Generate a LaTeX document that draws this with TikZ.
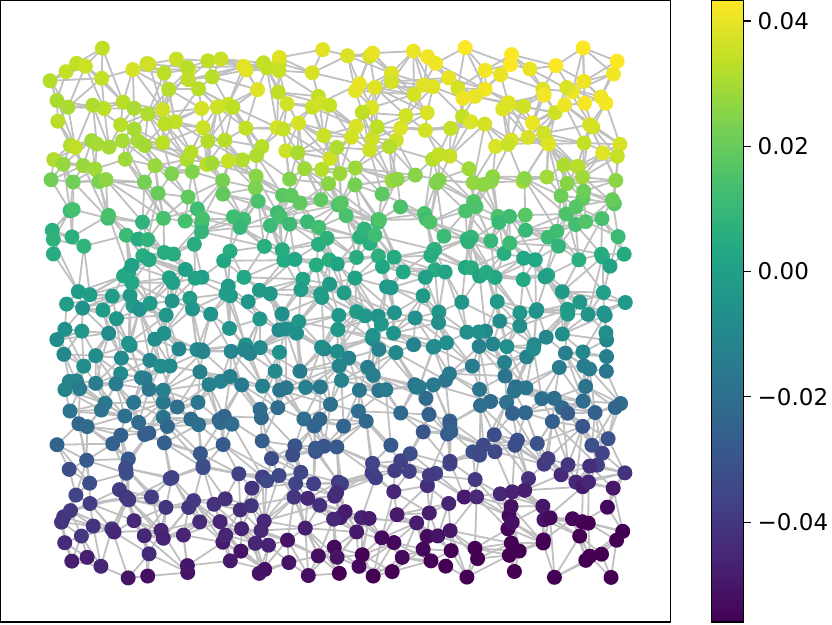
\documentclass[tikz,border=0pt]{standalone}
\usepackage{fontspec}
\setmainfont{DejaVu Sans}
\definecolor{vir0}{HTML}{440154}
\definecolor{vir1}{HTML}{482475}
\definecolor{vir2}{HTML}{414487}
\definecolor{vir3}{HTML}{355F8D}
\definecolor{vir4}{HTML}{2A788E}
\definecolor{vir5}{HTML}{21918C}
\definecolor{vir6}{HTML}{22A884}
\definecolor{vir7}{HTML}{44BF70}
\definecolor{vir8}{HTML}{7AD151}
\definecolor{vir9}{HTML}{BDDF26}
\definecolor{vir10}{HTML}{FDE725}
\definecolor{edgegray}{RGB}{192,192,192}
\tikzset{
  edge/.style={draw=edgegray, line width=1.8pt},
  frame/.style={draw=black, line width=1.1pt},
  tickmark/.style={draw=black, line width=1.1pt},
  ticklabel/.style={anchor=west, inner sep=0pt, font=\fontsize{23}{27}\selectfont}
}
\newcommand\mkedge[4]{%
  \ifnum#3<30 \ifnum#4<28 \ifnum#4>-1
    \ifnum\csname kp#1-#2\endcsname\csname kp#3-#4\endcsname=11
      \draw[edge] (n-#1-#2) -- (n-#3-#4);
    \fi\fi\fi\fi}
\begin{document}
\begin{tikzpicture}[x=1pt,y=1pt]
\useasboundingbox (0,0) rectangle (832,624);
\pgfmathsetseed{11}
% node positions and colours
\foreach \i in {0,...,29}{
  \foreach \j in {0,...,27}{
    \pgfmathsetmacro\px{62+\i*19+(rnd-0.5)*26}
    \pgfmathsetmacro\py{60+\j*18.7+(rnd-0.5)*26}
    \pgfmathtruncatemacro\keep{rnd>0.13 ? 1 : 0}
    \pgfmathsetmacro\tb{\py<160 ? 0.95-(\py-60)/100*0.05 :
      (\py<205 ? 0.90-(\py-160)/45*0.18 :
      (\py<270 ? 0.72-(\py-205)/65*0.13 :
      (\py<350 ? 0.59-(\py-270)/80*0.12 :
      (\py<400 ? 0.47-(\py-350)/50*0.09 :
      (\py<440 ? 0.38-(\py-400)/40*0.10 :
      (\py<500 ? 0.28-(\py-440)/60*0.16 : 0.12-(\py-500)/65*0.10))))))}
    \pgfmathsetmacro\xt{(\px-330)/280*(\py<300 ? 0.05*(300-\py)/240 : -0.09*(\py-300)/260)}
    \pgfmathsetmacro\tv{\tb+\xt+(rnd-0.5)*0.06}
    \pgfmathsetmacro\tv{max(0,min(0.999,\tv))}
    \pgfmathtruncatemacro\kv{floor(\tv*10)}
    \pgfmathtruncatemacro\fv{round((\tv*10-\kv)*100)}
    \pgfmathtruncatemacro\kkv{\kv+1}
    \expandafter\xdef\csname kp\i-\j\endcsname{\keep}
    \expandafter\xdef\csname ck\i-\j\endcsname{\kv}
    \expandafter\xdef\csname ckk\i-\j\endcsname{\kkv}
    \expandafter\xdef\csname cf\i-\j\endcsname{\fv}
    \coordinate (n-\i-\j) at (\px,624-\py);
  }}
% edges
\foreach \i in {0,...,29}{
  \foreach \j in {0,...,27}{
    \pgfmathtruncatemacro\ia{\i+1}
    \pgfmathtruncatemacro\ib{\i+2}
    \pgfmathtruncatemacro\ja{\j+1}
    \pgfmathtruncatemacro\jb{\j+2}
    \pgfmathtruncatemacro\jm{\j-1}
    \mkedge{\i}{\j}{\ia}{\j}
    \mkedge{\i}{\j}{\i}{\ja}
    \pgfmathtruncatemacro\r{100*rnd}\ifnum\r<75 \mkedge{\i}{\j}{\ia}{\ja}\fi
    \pgfmathtruncatemacro\r{100*rnd}\ifnum\r<75 \mkedge{\i}{\j}{\ia}{\jm}\fi
    \pgfmathtruncatemacro\r{100*rnd}\ifnum\r<45 \mkedge{\i}{\j}{\ib}{\j}\fi
    \pgfmathtruncatemacro\r{100*rnd}\ifnum\r<40 \mkedge{\i}{\j}{\i}{\jb}\fi
    \pgfmathtruncatemacro\r{100*rnd}\ifnum\r<30 \mkedge{\i}{\j}{\ib}{\ja}\fi
    \pgfmathtruncatemacro\r{100*rnd}\ifnum\r<30 \mkedge{\i}{\j}{\ia}{\jb}\fi
  }}
% nodes
\foreach \i in {0,...,29}{
  \foreach \j in {0,...,27}{
    \ifnum\csname kp\i-\j\endcsname=1
      \edef\col{vir\csname ckk\i-\j\endcsname!\csname cf\i-\j\endcsname!vir\csname ck\i-\j\endcsname}
      \fill[fill=\col] (n-\i-\j) circle (7.5);
    \fi
  }}
% axes frame
\draw[frame] (0.6,2) rectangle (670.7,623.4);
% colorbar
\foreach \k in {0,...,9}{
  \pgfmathtruncatemacro\kk{\k+1}
  \shade[bottom color=vir\k, top color=vir\kk] (711.7,{2+\k*62.14-0.2}) rectangle (743.3,{2+\kk*62.14+0.2});
}
\draw[frame] (711.7,2) rectangle (743.3,623.4);
\foreach \yy/\lab/\nm in {603/0.04/ta, 477.7/0.02/tb, 352.4/0.00/tc, 227.1/−0.02/td, 101.8/−0.04/te}{
  \draw[tickmark] (743.3,\yy) -- (751,\yy);
  \node[ticklabel] (\nm) at (757.5,\yy) {\lab};
}
\end{tikzpicture}
\end{document}
